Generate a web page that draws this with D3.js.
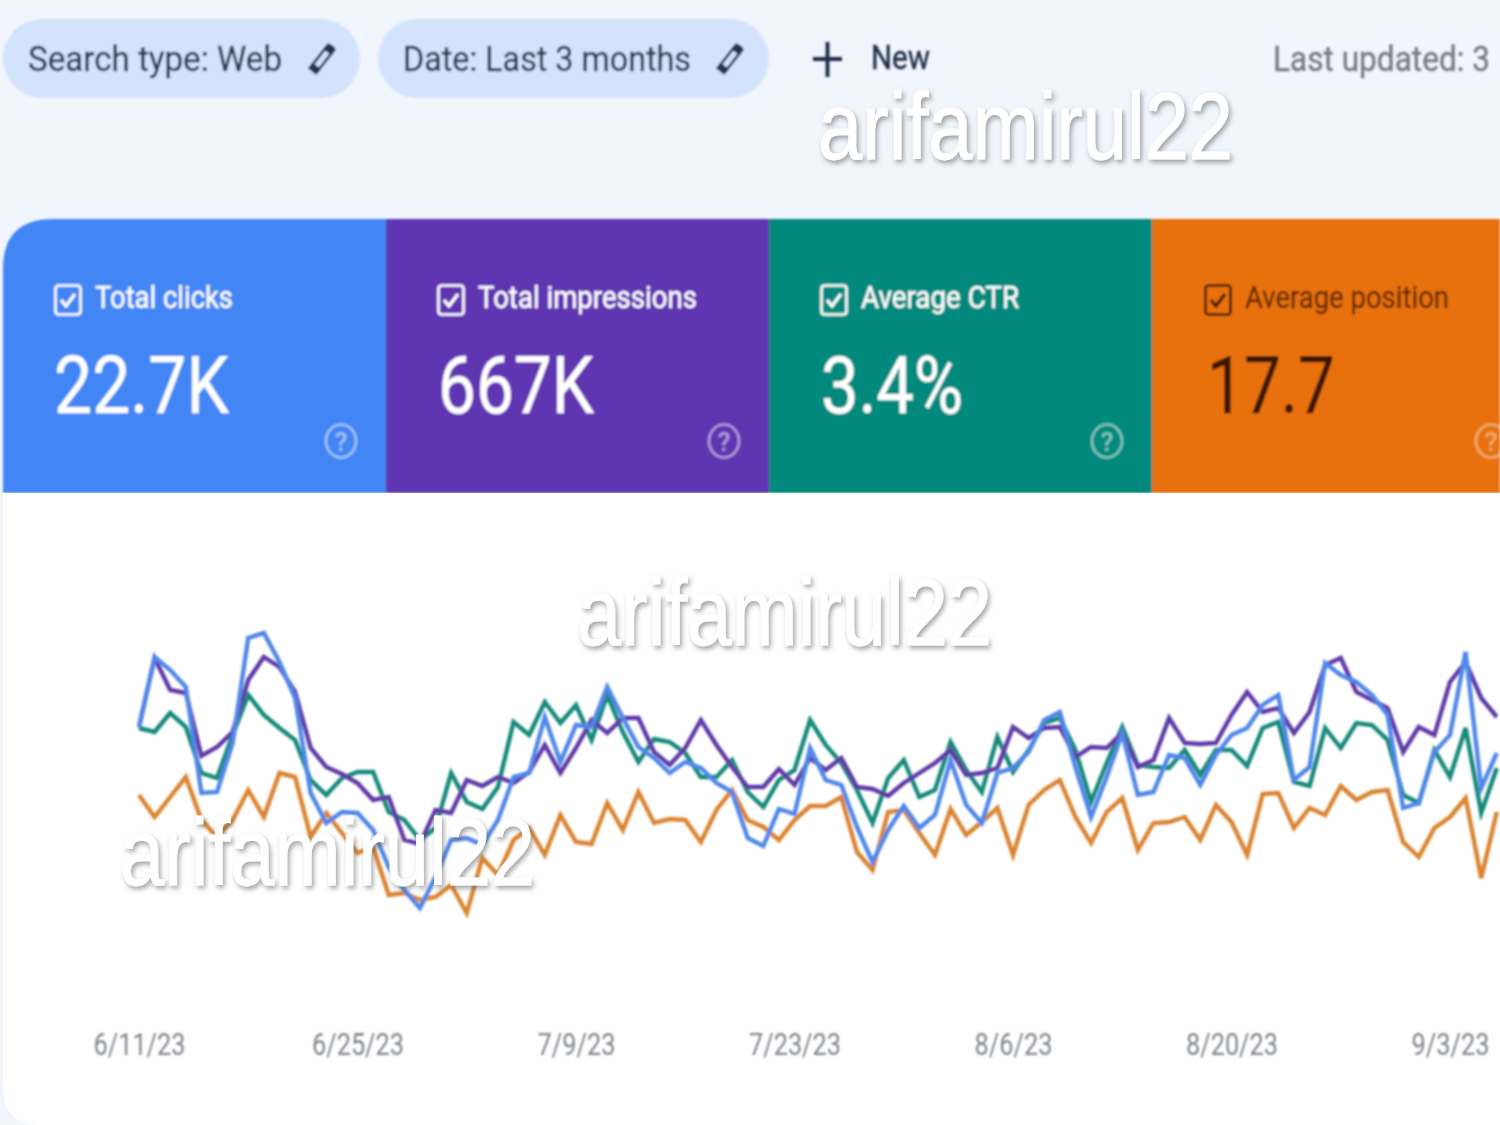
<!DOCTYPE html>
<html><head><meta charset="utf-8">
<script src="https://d3js.org/d3.v7.min.js"></script>
<style>html,body{margin:0;padding:0;background:#f1f5fc;overflow:hidden}svg{display:block}</style>
</head><body><div id="c"></div>
<script>
// Relative daily levels (each metric shares one unlabeled scale)
const clicks=[223,293,280,263,157,158,207,312,317,288,252,157,127,138,137,120,83,60,42,73,110,112,105,130,173,177,233,188,225,223,263,232,203,192,177,188,182,167,158,112,104,141,136,202,170,165,123,88,120,144,122,135,190,145,127,177,182,198,230,238,183,133,173,217,155,158,195,192,165,195,215,222,245,255,170,183,287,275,268,255,235,142,147,198,215,298,162,197];
const impressions=[223,292,260,257,194,203,218,270,293,283,258,202,183,176,167,150,153,110,106,140,137,170,164,173,167,178,205,177,202,230,217,232,232,198,185,202,230,205,183,163,163,181,165,192,180,192,163,161,154,167,177,187,200,175,177,182,223,212,222,223,193,203,202,217,183,190,232,207,206,207,235,258,238,242,217,238,285,292,258,250,242,198,223,215,268,288,252,233];
const ctr=[222,218,237,223,177,172,215,255,235,222,210,170,155,172,178,178,138,130,110,122,177,148,141,163,228,215,248,227,245,210,255,218,188,211,208,197,173,173,190,158,143,170,180,230,205,187,160,127,172,190,153,160,208,180,158,213,178,200,227,232,200,148,187,223,185,183,182,200,175,200,200,184,222,228,168,164,222,202,227,225,210,155,147,200,173,222,137,182];
const position=[155,133,153,173,130,113,130,160,133,177,173,113,137,117,97,103,55,57,50,53,65,37,92,75,110,122,95,135,108,106,147,120,158,127,131,130,108,140,160,130,123,110,130,144,144,153,98,80,138,140,117,95,141,115,128,142,95,145,160,170,133,107,138,152,100,127,128,133,110,145,128,95,156,157,122,142,135,164,150,158,160,108,93,122,133,152,72,138];
const tickLabels=["6/11/23","6/25/23","7/9/23","7/23/23","8/6/23","8/20/23","9/3/23"];
const metricNames=["Total clicks","Total impressions","Average CTR","Average position"];
const metricValues=["22.7K","667K","3.4%","17.7"];
const filters=["Search type: Web","Date: Last 3 months"];

const W=1500,H=1125;
const svg=d3.select("#c").append("svg").attr("width",W).attr("height",H).attr("viewBox",[0,0,W,H]);
const defs=svg.append("defs");
const sh=defs.append("filter").attr("id","wm").attr("x","-5%").attr("y","-20%").attr("width","115%").attr("height","150%");
sh.append("feDropShadow").attr("dx",2).attr("dy",3).attr("stdDeviation",2.5).attr("flood-color","#555").attr("flood-opacity",.55);
const soft=defs.append("filter").attr("id","soft").attr("x","-2%").attr("y","-2%").attr("width","104%").attr("height","104%");
soft.append("feGaussianBlur").attr("stdDeviation",.8);

const FONT="Roboto, sans-serif";
function label(g,str,x,y,size,width,fill,extra){
  const t=g.append("text").attr("x",x).attr("y",y).attr("font-family",FONT).attr("font-size",size)
   .attr("fill",fill).attr("stroke",fill).attr("stroke-width",.35).attr("textLength",width).attr("lengthAdjust","spacingAndGlyphs").text(str);
  if(extra)extra(t);return t;
}
function pencil(g,cx,cy,col){
  const p=g.append("g").attr("transform",`translate(${cx},${cy}) rotate(38)`);
  p.append("rect").attr("x",-4).attr("y",-10).attr("width",8).attr("height",20).attr("fill","none").attr("stroke",col).attr("stroke-width",2.8);
  p.append("path").attr("d","M-5.4,-10V-14Q-5.4,-17 -2,-17H2Q5.4,-17 5.4,-14V-10Z").attr("fill",col);
  p.append("path").attr("d","M-5.4,10L-5.4,17L5.4,17L5.4,10Z").attr("fill",col).attr("transform","translate(0,-1)");
}

// page header
const head=svg.append("g").attr("filter","url(#soft)");
const pillX=[3,378],pillW=[357,391],txtX=[28,403],txtW=[254,288],penX=[322,730];
filters.forEach((f,i)=>{
  head.append("rect").attr("x",pillX[i]).attr("y",19).attr("width",pillW[i]).attr("height",79).attr("rx",39.5).attr("fill","#d3e3fb");
  label(head,f,txtX[i],71,35,txtW[i],"#2b3650");
  pencil(head,penX[i],59,"#26314c");
});
head.append("path").attr("d","M813,59H842M827.5,42V77").attr("stroke","#1f2b48").attr("stroke-width",3.8).attr("fill","none");
label(head,"New",871,69,33,59,"#1f2b48");
label(head,"Last updated: 3",1273,71,35,217,"#747a85");

// metric tiles
const tileX=[3,386,769,1152],tileW=[383,383,383,348],tileCol=["#4285f4","#5e35b1","#00897b","#e8710a"];
const inkCol=["#fff","#fff","#fff","#3a1500"],ckX=[54,437,820,1204],nameW=[138,219,158,204],nameX=[95,478,861,1245];
const valX=[54,438,821,1207],valW=[175,156,142,128],helpX=[341,724,1107,1491];
const tiles=svg.append("g").attr("filter","url(#soft)");
metricNames.forEach((m,i)=>{
  if(i===0) tiles.append("path").attr("d",`M3,493V269Q3,219 53,219H386V493Z`).attr("fill",tileCol[0]);
  else tiles.append("rect").attr("x",tileX[i]).attr("y",219).attr("width",tileW[i]).attr("height",274).attr("fill",tileCol[i]);
  const c=inkCol[i];
  tiles.append("rect").attr("x",ckX[i]+1.5).attr("y",285.5).attr("width",25).attr("height",29).attr("rx",3).attr("fill","none").attr("stroke",c).attr("stroke-width",2.6);
  tiles.append("path").attr("d",`M${ckX[i]+7},${300}l5,6l9,-12`).attr("fill","none").attr("stroke",c).attr("stroke-width",3.2);
  label(tiles,m,nameX[i],308,32,nameW[i],c,t=>t.attr("opacity",i===3?.75:1));
  label(tiles,metricValues[i],valX[i],413,79,valW[i],c);
  const q=tiles.append("g").attr("opacity",i===3?.4:.5);
  q.append("ellipse").attr("cx",helpX[i]).attr("cy",441).attr("rx",15).attr("ry",16.5).attr("fill","none").attr("stroke","#fff").attr("stroke-width",2.6);
  q.append("text").attr("x",helpX[i]).attr("y",451).attr("text-anchor","middle").attr("font-family",FONT).attr("font-size",26).attr("font-weight",500).attr("fill","#fff").text("?");
});

// chart card
svg.append("path").attr("d",`M3,493H${W}V${H}H38Q3,${H} 3,1085Z`).attr("fill","#fff");

// scales and lines
const start=new Date(Date.UTC(2023,5,11));
const dates=clicks.map((_,i)=>d3.utcDay.offset(start,i));
const x=d3.scaleUtc().domain([start,new Date(Date.UTC(2023,8,3))]).range([139,1450]);
const y=d3.scaleLinear().domain([0,350]).range([950,600]);
const line=d3.line().x((d,i)=>x(dates[i])).y(d=>y(d));
const series=[[position,"#da8430"],[ctr,"#17897a"],[impressions,"#5f3aa8"],[clicks,"#4f87ea"]];
const plot=svg.append("g").attr("filter","url(#soft)");
plot.selectAll("path").data(series).join("path").attr("d",d=>line(d[0])).attr("fill","none")
  .attr("stroke",d=>d[1]).attr("stroke-width",4.4).attr("stroke-linejoin","miter");

// x axis
const tickDates=tickLabels.map((_,i)=>d3.utcDay.offset(start,14*i));
const axisW=[92,92,78,92,78,92,78];
const ax=svg.append("g").attr("transform","translate(0,1024)").attr("filter","url(#soft)")
  .call(d3.axisBottom(x).tickValues(tickDates).tickFormat((d,i)=>tickLabels[i]).tickSize(0));
ax.select(".domain").remove();
ax.selectAll("text").attr("y",31).attr("dy",0).attr("font-family",FONT).attr("font-size",31).attr("fill","#80858c")
  .attr("textLength",(d,i)=>axisW[i]).attr("lengthAdjust","spacingAndGlyphs");

// watermarks
const wmX=[818,577,120],wmY=[159,645,885];
wmX.forEach((xx,i)=>{
  svg.append("text").attr("x",xx).attr("y",wmY[i]).attr("font-family","'Liberation Sans', Arial, sans-serif").attr("font-size",95)
   .attr("fill","#fff").attr("stroke","#fff").attr("stroke-width",.8).attr("filter","url(#wm)").attr("textLength",415).attr("lengthAdjust","spacingAndGlyphs").text("arifamirul22");
});
</script></body></html>
